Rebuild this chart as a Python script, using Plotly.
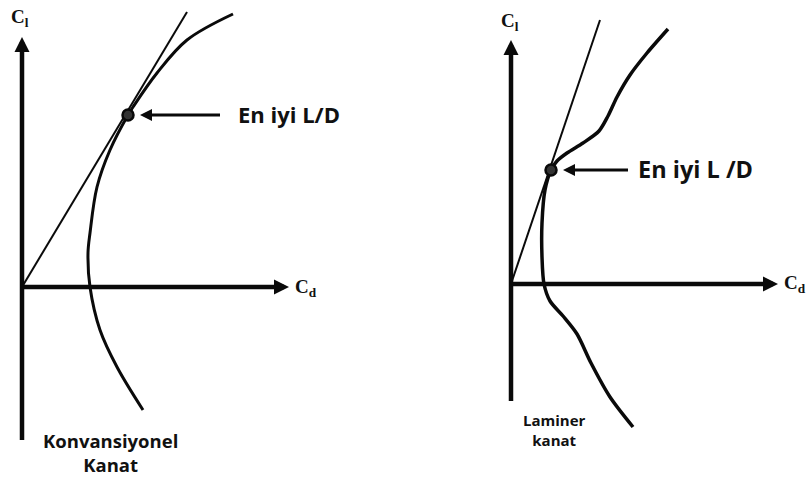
import plotly.graph_objects as go

# ---- Left panel: conventional wing (schematic units, origin at axes crossing) ----
conv_cd = [2.11, 1.65, 1.35, 1.11, 1.06, 0.88, 0.75, 0.68, 0.66, 0.68, 0.78, 0.95, 1.21]
conv_cl = [2.73, 2.47, 2.14, 1.80, 1.72, 1.37, 1.00, 0.54, 0.34, 0.00, -0.43, -0.80, -1.23]
conv_tangent_cd = [0.0, 1.65]
conv_tangent_cl = [0.0, 2.75]
conv_best_cd = [1.06]
conv_best_cl = [1.72]

# ---- Right panel: laminar wing ----
lam_cd = [1.57, 1.36, 1.19, 1.06, 0.97, 0.88, 0.72, 0.56, 0.46, 0.40, 0.34, 0.31, 0.31, 0.33,
          0.39, 0.52, 0.66, 0.80, 0.99, 1.22]
lam_cl = [2.55, 2.31, 2.09, 1.87, 1.68, 1.53, 1.41, 1.31, 1.23, 1.14, 0.94, 0.61, 0.27, 0.00,
          -0.17, -0.32, -0.50, -0.79, -1.13, -1.43]
lam_tangent_cd = [0.0, 0.89]
lam_tangent_cl = [0.0, 2.64]
lam_best_cd = [0.40]
lam_best_cl = [1.14]

# axis extents (schematic)
conv_axis = dict(cl_min=-1.53, cl_max=2.50, cd_max=2.67)
lam_axis = dict(cl_min=-1.17, cl_max=2.44, cd_max=2.67)

# labels
ld_label_conv = "<b>En iyi L/D</b>"
ld_label_lam = "<b>En iyi L /D</b>"
name_conv = "<b>Konvansiyonel<br>Kanat</b>"
name_lam = "<b>Laminer<br>kanat</b>"

BLACK = "#0a0a0a"
fig = go.Figure()


def panel(xa, ya, axis, cd, cl, tcd, tcl, bcd, bcl, ld_from, ld_gap, ld_text, ld_size,
          curve_w, smooth):
    # vertical axis with arrow
    fig.add_trace(go.Scatter(x=[0, 0], y=[axis["cl_min"], axis["cl_max"] - 0.05], mode="lines",
                             line=dict(color=BLACK, width=4.5), xaxis=xa, yaxis=ya,
                             hoverinfo="skip"))
    fig.add_trace(go.Scatter(x=[0], y=[axis["cl_max"]], mode="markers",
                             marker=dict(symbol="arrow-up", size=15, color=BLACK,
                                         line=dict(width=0)),
                             xaxis=xa, yaxis=ya, hoverinfo="skip"))
    # horizontal axis with arrow
    fig.add_trace(go.Scatter(x=[0, axis["cd_max"] - 0.05], y=[0, 0], mode="lines",
                             line=dict(color=BLACK, width=4.5), xaxis=xa, yaxis=ya,
                             hoverinfo="skip"))
    fig.add_trace(go.Scatter(x=[axis["cd_max"]], y=[0], mode="markers",
                             marker=dict(symbol="arrow-right", size=15, color=BLACK,
                                         line=dict(width=0)),
                             xaxis=xa, yaxis=ya, hoverinfo="skip"))
    # tangent line
    fig.add_trace(go.Scatter(x=tcd, y=tcl, mode="lines",
                             line=dict(color=BLACK, width=2), xaxis=xa, yaxis=ya,
                             hoverinfo="skip"))
    # drag polar
    fig.add_trace(go.Scatter(x=cd, y=cl, mode="lines",
                             line=dict(color=BLACK, width=curve_w, shape="spline", smoothing=smooth),
                             xaxis=xa, yaxis=ya, hoverinfo="skip"))
    # best L/D point
    fig.add_trace(go.Scatter(x=bcd, y=bcl, mode="markers",
                             marker=dict(symbol="circle", size=11, color="#333",
                                         line=dict(color=BLACK, width=2.5)),
                             xaxis=xa, yaxis=ya, hoverinfo="skip"))
    # pointer arrow
    tip = bcd[0] + 0.12
    fig.add_trace(go.Scatter(x=[ld_from, tip + 0.05], y=[bcl[0], bcl[0]], mode="lines",
                             line=dict(color=BLACK, width=3), xaxis=xa, yaxis=ya,
                             hoverinfo="skip"))
    fig.add_trace(go.Scatter(x=[tip], y=[bcl[0]], mode="markers",
                             marker=dict(symbol="arrow-left", size=12, color=BLACK,
                                         line=dict(width=0)),
                             xaxis=xa, yaxis=ya, hoverinfo="skip"))
    fig.add_annotation(x=ld_from + ld_gap, y=bcl[0] + 0.01, xref=xa, yref=ya, text=ld_text,
                       showarrow=False, xanchor="left", yanchor="middle",
                       font=dict(family="Open Sans", size=ld_size, color="#111"))


panel("x", "y", conv_axis, conv_cd, conv_cl, conv_tangent_cd, conv_tangent_cl,
      conv_best_cd, conv_best_cl, 1.98, 0.16, ld_label_conv, 22, 3, 1.0)
panel("x2", "y2", lam_axis, lam_cd, lam_cl, lam_tangent_cd, lam_tangent_cl,
      lam_best_cd, lam_best_cl, 1.17, 0.08, ld_label_lam, 23.5, 3.5, 0.8)

serif = dict(family="Liberation Serif", size=19, color="#111")
fig.add_annotation(x=-0.02, y=2.69, xref="x", yref="y", text="<b>C<sub>l</sub></b>",
                   showarrow=False, font=serif)
fig.add_annotation(x=2.84, y=-0.01, xref="x", yref="y", text="<b>C<sub>d</sub></b>",
                   showarrow=False, font=serif)
fig.add_annotation(x=-0.01, y=2.62, xref="x2", yref="y2", text="<b>C<sub>l</sub></b>",
                   showarrow=False, font=serif)
fig.add_annotation(x=2.84, y=0.0, xref="x2", yref="y2", text="<b>C<sub>d</sub></b>",
                   showarrow=False, font=serif)

fig.add_annotation(x=0.88, y=-1.39, xref="x", yref="y", text=name_conv, showarrow=False,
                   font=dict(family="Open Sans", size=18.5, color="#111"), align="center",
                   yanchor="top")
fig.add_annotation(x=0.43, y=-1.24, xref="x2", yref="y2", text=name_lam, showarrow=False,
                   font=dict(family="Open Sans", size=15, color="#111"), align="center",
                   yanchor="top")

axis_common = dict(visible=False, showgrid=False, zeroline=False, fixedrange=True)
fig.update_layout(
    width=806, height=479,
    margin=dict(l=0, r=0, t=0, b=0),
    paper_bgcolor="white", plot_bgcolor="white",
    showlegend=False,
    xaxis=dict(domain=[0, 0.5], range=[-0.22, 3.81], **axis_common),
    yaxis=dict(domain=[0, 1], range=[-1.92, 2.87], **axis_common),
    xaxis2=dict(domain=[0.5, 1], range=[-1.08, 2.95], anchor="y2", **axis_common),
    yaxis2=dict(domain=[0, 1], range=[-1.95, 2.84], anchor="x2", **axis_common),
)

fig.write_html("out.html", config={"displayModeBar": False, "staticPlot": True},
               post_script="document.body.style.margin='0';document.body.style.overflow='hidden';")
